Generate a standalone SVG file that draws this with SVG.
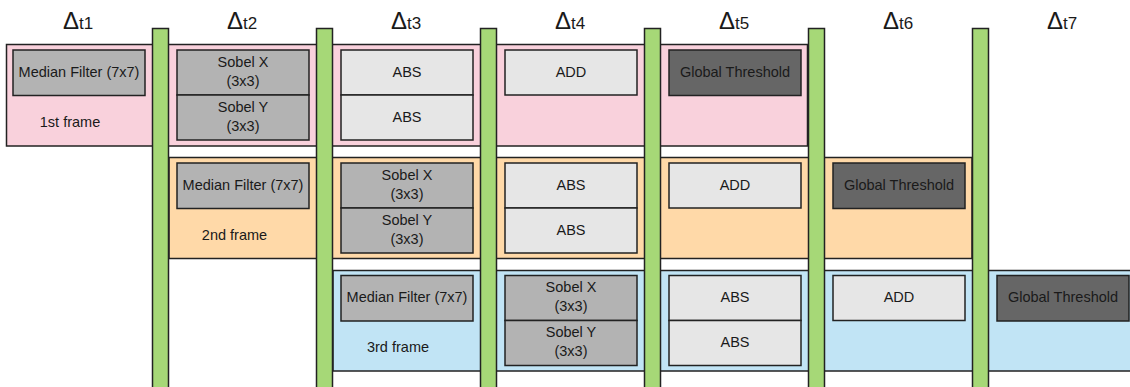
<svg xmlns="http://www.w3.org/2000/svg" width="1130" height="387" viewBox="0 0 1130 387">
<style>
text{font-family:"Liberation Sans",Arial,sans-serif;fill:#1a1a1a;text-anchor:middle}
.n{font-size:14.5px}
.band{stroke:#222;stroke-width:1.5}
.pink{fill:#F9D1DC}
.orange{fill:#FFD9A8}
.blue{fill:#C1E4F5}
.bar{fill:#A6D877;stroke:#222;stroke-width:1.5}
.g{fill:#B3B3B3;stroke:#222;stroke-width:1.5}
.l{fill:#E6E6E6;stroke:#222;stroke-width:1.5}
.d{fill:#666666;stroke:#222;stroke-width:1.5}
.dl{font-size:24px}
.ds{font-size:17px}
</style>
<rect width="1130" height="387" fill="#fff"/>
<g id="headers">
<text x="78" y="29"><tspan class="dl">Δ</tspan><tspan class="ds">t1</tspan></text>
<text x="242" y="29"><tspan class="dl">Δ</tspan><tspan class="ds">t2</tspan></text>
<text x="406" y="29"><tspan class="dl">Δ</tspan><tspan class="ds">t3</tspan></text>
<text x="570" y="29"><tspan class="dl">Δ</tspan><tspan class="ds">t4</tspan></text>
<text x="734" y="29"><tspan class="dl">Δ</tspan><tspan class="ds">t5</tspan></text>
<text x="898" y="29"><tspan class="dl">Δ</tspan><tspan class="ds">t6</tspan></text>
<text x="1062" y="29"><tspan class="dl">Δ</tspan><tspan class="ds">t7</tspan></text>
</g>
<g id="frame1">
<rect class="band pink" x="6.5" y="44.5" width="801" height="101.5"/>
<text class="n" x="70" y="127">1st frame</text>
</g>
<g id="frame2">
<rect class="band orange" x="169" y="157.5" width="803" height="101"/>
<text class="n" x="234.5" y="240">2nd frame</text>
</g>
<g id="frame3">
<rect class="band blue" x="333" y="270.5" width="805" height="100.5"/>
<text class="n" x="398" y="352">3rd frame</text>
</g>
<g id="bars">
<rect class="bar" x="152.5" y="28.5" width="16" height="370"/>
<rect class="bar" x="316.5" y="28.5" width="16" height="370"/>
<rect class="bar" x="480.5" y="28.5" width="16" height="370"/>
<rect class="bar" x="644.5" y="28.5" width="16" height="370"/>
<rect class="bar" x="808.5" y="28.5" width="16" height="370"/>
<rect class="bar" x="972.5" y="28.5" width="16" height="370"/>
</g>
<g id="connectors"></g>
<g id="f1-median"><rect class="g" x="13" y="50" width="132" height="45.5"/><text class="n" x="79" y="76.5">Median Filter (7x7)</text></g>
<g id="f1-sobelx"><rect class="g" x="177" y="50" width="132" height="45"/><text class="n" x="243" y="66.5">Sobel X</text><text class="n" x="243" y="85.5">(3x3)</text></g>
<g id="f1-sobely"><rect class="g" x="177" y="95" width="132" height="45"/><text class="n" x="243" y="111.5">Sobel Y</text><text class="n" x="243" y="130.5">(3x3)</text></g>
<g id="f1-abs1"><rect class="l" x="341" y="50" width="132" height="45"/><text class="n" x="407" y="76.5">ABS</text></g>
<g id="f1-abs2"><rect class="l" x="341" y="95" width="132" height="45"/><text class="n" x="407" y="121.5">ABS</text></g>
<g id="f1-add"><rect class="l" x="505" y="50" width="132" height="45"/><text class="n" x="571" y="76.5">ADD</text></g>
<g id="f1-thr"><rect class="d" x="669" y="50" width="132" height="45.5"/><text class="n" x="735" y="76.5">Global Threshold</text></g>
<g id="f2-median"><rect class="g" x="177" y="163" width="132" height="45.5"/><text class="n" x="243" y="189.5">Median Filter (7x7)</text></g>
<g id="f2-sobelx"><rect class="g" x="341" y="163" width="132" height="45"/><text class="n" x="407" y="179.5">Sobel X</text><text class="n" x="407" y="198.5">(3x3)</text></g>
<g id="f2-sobely"><rect class="g" x="341" y="208" width="132" height="45"/><text class="n" x="407" y="224.5">Sobel Y</text><text class="n" x="407" y="243.5">(3x3)</text></g>
<g id="f2-abs1"><rect class="l" x="505" y="163" width="132" height="45"/><text class="n" x="571" y="189.5">ABS</text></g>
<g id="f2-abs2"><rect class="l" x="505" y="208" width="132" height="45"/><text class="n" x="571" y="234.5">ABS</text></g>
<g id="f2-add"><rect class="l" x="669" y="163" width="132" height="45"/><text class="n" x="735" y="189.5">ADD</text></g>
<g id="f2-thr"><rect class="d" x="833" y="163" width="132" height="45.5"/><text class="n" x="899" y="189.5">Global Threshold</text></g>
<g id="f3-median"><rect class="g" x="341" y="275.5" width="132" height="45.5"/><text class="n" x="407" y="302">Median Filter (7x7)</text></g>
<g id="f3-sobelx"><rect class="g" x="505" y="275.5" width="132" height="45"/><text class="n" x="571" y="292">Sobel X</text><text class="n" x="571" y="311">(3x3)</text></g>
<g id="f3-sobely"><rect class="g" x="505" y="320.5" width="132" height="45"/><text class="n" x="571" y="337">Sobel Y</text><text class="n" x="571" y="356">(3x3)</text></g>
<g id="f3-abs1"><rect class="l" x="669" y="275.5" width="132" height="45"/><text class="n" x="735" y="302">ABS</text></g>
<g id="f3-abs2"><rect class="l" x="669" y="320.5" width="132" height="45"/><text class="n" x="735" y="347">ABS</text></g>
<g id="f3-add"><rect class="l" x="833" y="275.5" width="132" height="45"/><text class="n" x="899" y="302">ADD</text></g>
<g id="f3-thr"><rect class="d" x="997" y="275.5" width="132" height="45.5"/><text class="n" x="1063" y="302">Global Threshold</text></g>
</svg>
